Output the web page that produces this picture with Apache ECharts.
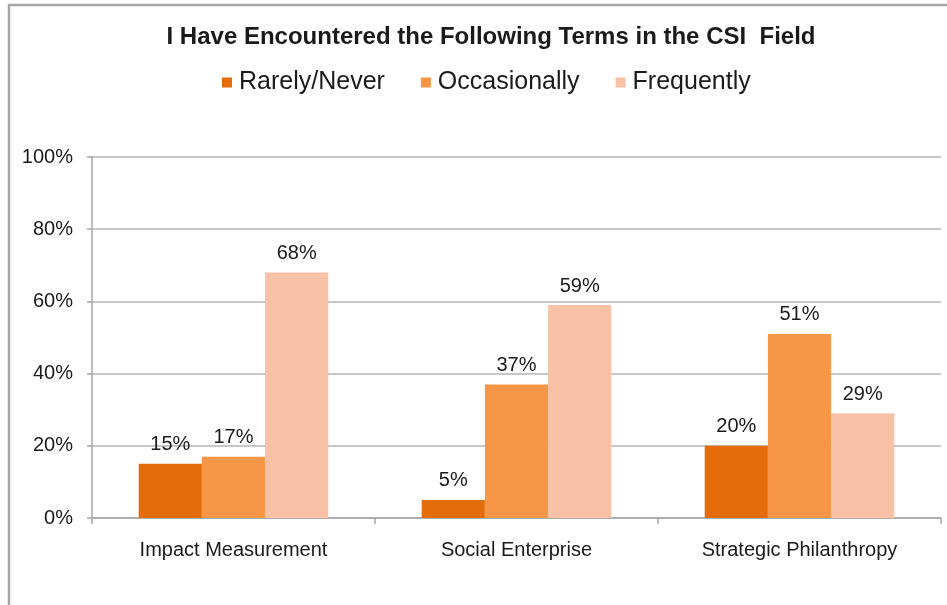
<!DOCTYPE html>
<html>
<head>
<meta charset="utf-8">
<script src="https://cdn.jsdelivr.net/npm/echarts@6/dist/echarts.min.js"></script>
<style>
  html, body { margin: 0; padding: 0; background: #ffffff; }
  #chart { width: 947px; height: 605px; }
</style>
</head>
<body>
<div id="chart"></div>
<script>
// Survey results: how often respondents encountered each term
const categories = ['Impact Measurement', 'Social Enterprise', 'Strategic Philanthropy'];
const seriesNames = ['Rarely/Never', 'Occasionally', 'Frequently'];
const rarelyNever = [15, 5, 20];
const occasionally = [17, 37, 51];
const frequently = [68, 59, 29];
const yTicks = [0, 20, 40, 60, 80, 100];

const colors = ['#E46C0A', '#F79646', '#F9C2A6'];
const textColor = '#1a1a1a';
const font = 'Liberation Sans, Arial, sans-serif';

const chart = echarts.init(document.getElementById('chart'), null, { renderer: 'canvas' });

function barSeries(name, data, color) {
  return {
    name: name,
    type: 'bar',
    data: data,
    barGap: '0%',
    barCategoryGap: '33%',
    itemStyle: { color: color },
    label: {
      show: true,
      position: 'top',
      distance: 9,
      formatter: p => p.value + '%',
      color: textColor,
      fontFamily: font,
      fontSize: 20
    },
    emphasis: { disabled: true }
  };
}

chart.setOption({
  backgroundColor: '#ffffff',
  animation: false,
  title: {
    text: 'I Have Encountered the Following Terms in the CSI  Field',
    left: 486,
    textAlign: 'center',
    top: 20,
    textStyle: { fontFamily: font, fontSize: 24, fontWeight: 'bold', color: textColor }
  },
  legend: {
    data: seriesNames,
    top: 65,
    left: 217,
    icon: 'rect',
    itemWidth: 10,
    itemHeight: 10,
    itemGap: 36,
    textStyle: { fontFamily: font, fontSize: 25, color: textColor, padding: [0, 0, 0, 2] }
  },
  grid: { left: 92, right: 6, top: 157, bottom: 87, containLabel: false },
  xAxis: {
    type: 'category',
    data: categories,
    axisLine: { lineStyle: { color: '#A6A6A6', width: 1.5 } },
    axisTick: { show: true, length: 6, lineStyle: { color: '#A6A6A6', width: 1.5 } },
    axisLabel: { margin: 22, color: textColor, fontFamily: font, fontSize: 20 }
  },
  yAxis: {
    type: 'value',
    min: yTicks[0],
    max: yTicks[yTicks.length - 1],
    interval: yTicks[1] - yTicks[0],
    axisLine: { show: true, lineStyle: { color: '#A6A6A6', width: 1.5 } },
    axisTick: { show: true, length: 5, lineStyle: { color: '#A6A6A6', width: 1.5 } },
    axisLabel: { margin: 19, color: textColor, fontFamily: font, fontSize: 20, formatter: v => v + '%' },
    splitLine: { lineStyle: { color: '#B4B4B4', width: 1.5 } }
  },
  series: [
    barSeries(seriesNames[0], rarelyNever, colors[0]),
    barSeries(seriesNames[1], occasionally, colors[1]),
    barSeries(seriesNames[2], frequently, colors[2])
  ],
  graphic: [{
    type: 'rect',
    shape: { x: 9, y: 5, width: 1000, height: 700 },
    style: { fill: 'none', stroke: '#A6A6A6', lineWidth: 2.5 },
    silent: true
  }]
});
</script>
</body>
</html>
